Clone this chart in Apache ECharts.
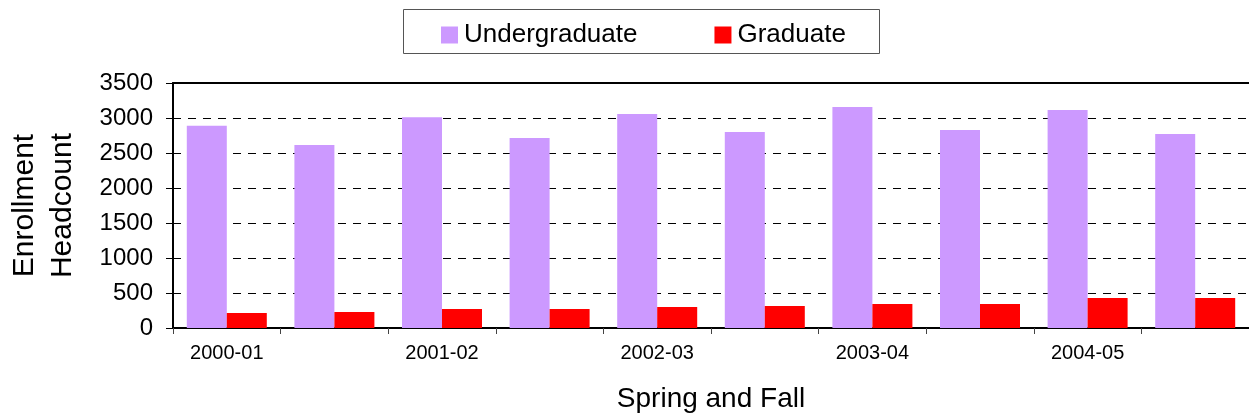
<!DOCTYPE html>
<html>
<head>
<meta charset="utf-8">
<script src="https://cdn.jsdelivr.net/npm/echarts@6/dist/echarts.min.js"></script>
<style>
html, body { margin: 0; padding: 0; background: #fff; }
#main { width: 1249px; height: 417px; }
</style>
</head>
<body>
<div id="main"></div>
<script>
// one entry per semester (spring, fall) of each academic year
var terms = ['2000-01', '2000-01 Fall', '2001-02', '2001-02 Fall', '2002-03', '2002-03 Fall',
             '2003-04', '2003-04 Fall', '2004-05', '2004-05 Fall'];
var undergrad = [2890, 2615, 3012, 2714, 3057, 2800, 3157, 2829, 3114, 2771];
var graduate = [214, 229, 271, 271, 300, 314, 343, 343, 429, 429];
var yTicks = [0, 500, 1000, 1500, 2000, 2500, 3000, 3500];

ShowChart();
function ShowChart() {
	var myChart = echarts.init(document.getElementById('main'));
	var font = 'Arial, "Liberation Sans", sans-serif';
	var option = {
		animation: false,
		textStyle: { fontFamily: font, color: '#000' },
		graphic: [{
			type: 'rect',
			shape: { x: 403.5, y: 9.5, width: 476, height: 44 },
			style: { fill: '#fff', stroke: '#555', lineWidth: 1 },
			z: -1
		}],
		legend: {
			left: 441,
			top: 22,
			padding: 0,
			itemWidth: 17,
			itemHeight: 17,
			itemGap: 77,
			icon: 'rect',
			textStyle: { fontSize: 26, fontFamily: font, color: '#000', padding: [0, 0, 0, 1] },
			data: ['Undergraduate', 'Graduate']
		},
		grid: { left: 173, right: 0, top: 83, bottom: 89, containLabel: false, outerBoundsMode: 'none' },
		xAxis: [{
			type: 'category',
			data: terms,
			name: 'Spring and Fall',
			nameLocation: 'middle',
			nameGap: 57,
			nameTextStyle: { fontSize: 28, fontFamily: font, color: '#000' },
			axisLine: { lineStyle: { color: '#000', width: 2 } },
			axisTick: { show: true, interval: 0, length: 6, lineStyle: { color: '#444', width: 1 } },
			axisLabel: {
				interval: 1,
				fontSize: 20,
				margin: 15,
				color: '#000',
				formatter: function (v) { return v.split(' ')[0]; }
			}
		}, {
			type: 'category',
			position: 'top',
			data: terms,
			axisLine: { show: true, lineStyle: { color: '#000', width: 2 } },
			axisTick: { show: false },
			axisLabel: { show: false }
		}],
		yAxis: {
			type: 'value',
			min: yTicks[0],
			max: yTicks[yTicks.length - 1],
			interval: 500,
			name: 'Enrollment\nHeadcount',
			nameLocation: 'middle',
			nameGap: 91,
			nameTextStyle: { fontSize: 30, lineHeight: 38, fontFamily: font, color: '#000' },
			axisLine: { show: true, lineStyle: { color: '#000', width: 2 } },
			axisTick: { show: true, length: 7, lineStyle: { color: '#000', width: 1 } },
			axisLabel: { fontSize: 24, margin: 20, color: '#000', formatter: function (v) { return String(v); } },
			splitLine: { show: true, lineStyle: { color: '#000', width: 1, type: [8, 7] } }
		},
		series: [{
			name: 'Undergraduate',
			type: 'bar',
			barWidth: 40,
			barGap: '0%',
			itemStyle: { color: '#CC99FF' },
			data: undergrad
		}, {
			name: 'Graduate',
			type: 'bar',
			barWidth: 40,
			itemStyle: { color: '#FF0000' },
			data: graduate
		}]
	};
	myChart.setOption(option);
}
</script>
</body>
</html>
